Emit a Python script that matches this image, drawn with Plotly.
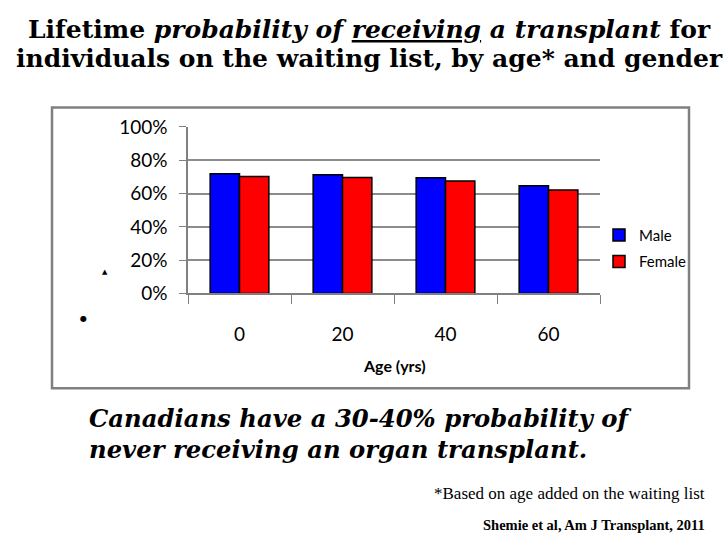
import plotly.graph_objects as go

W, H = 728, 546

ages = ["0", "20", "40", "60"]
male = [0.719, 0.713, 0.695, 0.647]
female = [0.703, 0.697, 0.675, 0.621]
y_ticks = [0, 0.2, 0.4, 0.6, 0.8, 1.0]
y_tick_labels = ["0%", "20%", "40%", "60%", "80%", "100%"]

def px(x):
    return x / W

def ty(y):
    # target picture y -> paper fraction (compensates the vertical fit of the page photo)
    page = (y - 10.9) / 0.96
    return 1 - page / H

fig = go.Figure()
fig.add_trace(go.Bar(name="Male", x=ages, y=male, legendgroup="m",
                     marker=dict(color="#0000FF", line=dict(color="#000000", width=1.5))))
fig.add_trace(go.Bar(name="Female", x=ages, y=female, legendgroup="f",
                     marker=dict(color="#FF0000", line=dict(color="#000000", width=1.5))))

chart_font = "Lato"
serif = "DejaVu Serif"

fig.update_layout(
    width=W, height=H,
    margin=dict(l=0, r=0, t=0, b=0),
    paper_bgcolor="white", plot_bgcolor="white",
    barmode="group", bargap=0.43, bargroupgap=0.0,
    showlegend=True,
    legend=dict(x=px(599), y=ty(218), xanchor="left", yanchor="top",
                font=dict(family=chart_font, size=15, color="black"),
                bgcolor="rgba(0,0,0,0)", tracegroupgap=4, itemwidth=30,
                traceorder="grouped"),
    xaxis=dict(domain=[px(188), px(600)], type="category",
               tickson="boundaries", ticks="outside", ticklen=9, tickcolor="#808080",
               showline=True, linecolor="#808080", linewidth=1.5,
               tickfont=dict(family=chart_font, size=19, color="black"),
               ticklabelstandoff=23, showgrid=False),
    yaxis=dict(domain=[ty(293), ty(126)], range=[0, 1.0005],
               tickvals=y_ticks, ticktext=y_tick_labels,
               ticks="outside", ticklen=7, tickcolor="#808080",
               showline=True, linecolor="#808080", linewidth=1.5,
               gridcolor="#8c8c8c", gridwidth=1.5, zeroline=False,
               tickfont=dict(family=chart_font, size=19, color="black"),
               ticklabelstandoff=8),
)

# chart border
fig.add_shape(type="rect", xref="paper", yref="paper",
              x0=px(52), x1=px(689), y0=ty(388), y1=ty(106.5),
              line=dict(color="#808080", width=2.5), fillcolor="rgba(0,0,0,0)", layer="below")

title_html = ("<b><span style='font-size:25px'>Lifetime <i>probability of <u>receiving</u> a transplant</i> for</span>"
              "<br><span style='font-size:25px'>individuals on the waiting list, by age* and gender</span></b>")
claim_html = ("<b><i><span style='font-size:24.3px'>Canadians have a 30-40% probability of</span>"
              "<br><span style='font-size:24.3px'>never receiving an organ transplant.</span></i></b>")

annotations = [
    dict(x=px(394), y=ty(365), text="<b>Age (yrs)</b>",
         font=dict(family=chart_font, size=16, color="black"),
         xanchor="center", yanchor="middle"),
    dict(x=px(369), y=ty(43), text=title_html,
         font=dict(family=serif, size=22.3, color="black"),
         xanchor="center", yanchor="middle", align="center"),
    dict(x=px(87), y=ty(434), text=claim_html,
         font=dict(family=serif, size=24, color="black"),
         xanchor="left", yanchor="middle", align="left"),
    dict(x=px(707), y=ty(493), text="*Based on age added on the waiting list",
         font=dict(family="Liberation Serif", size=17, color="black"),
         xanchor="right", yanchor="middle"),
    dict(x=px(707), y=ty(525), text="<b>Shemie et al, Am J Transplant, 2011</b>",
         font=dict(family="Liberation Serif", size=14.5, color="black"),
         xanchor="right", yanchor="middle"),
    dict(x=px(105), y=ty(271), text="▲",
         font=dict(family="DejaVu Sans", size=7, color="black"),
         xanchor="center", yanchor="middle"),
    dict(x=px(83), y=ty(318), text="●",
         font=dict(family="DejaVu Sans", size=8, color="black"),
         xanchor="center", yanchor="middle"),
]
for a in annotations:
    a.update(xref="paper", yref="paper", showarrow=False)
fig.update_layout(annotations=annotations)

fig.write_html("out.html", config={"displayModeBar": False},
               post_script="document.body.style.margin='0';")
